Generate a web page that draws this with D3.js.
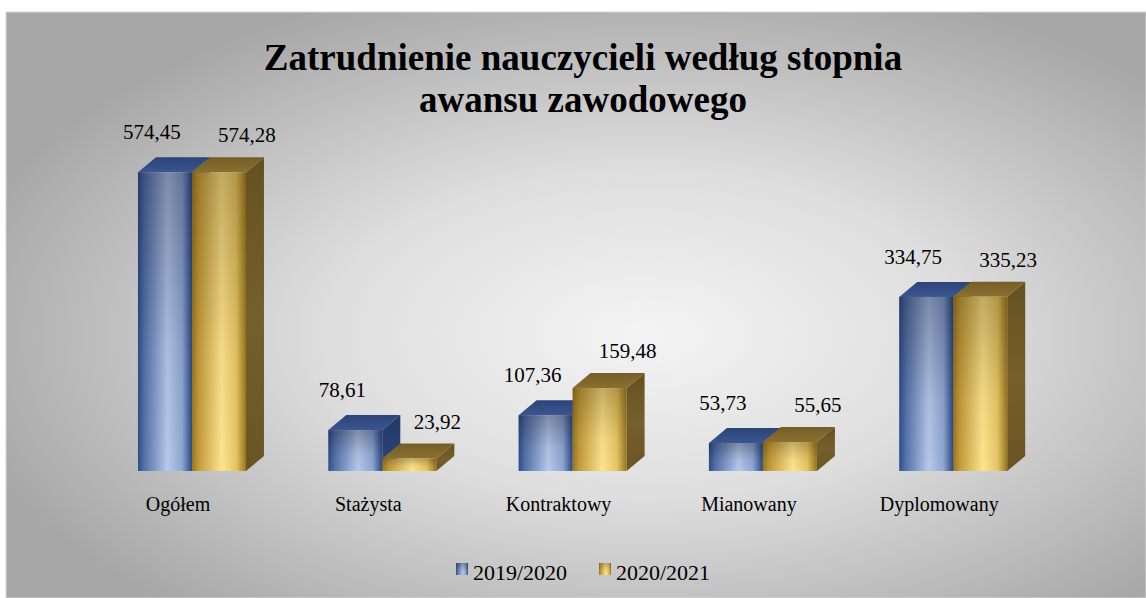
<!DOCTYPE html>
<html>
<head>
<meta charset="utf-8">
<script src="https://cdn.jsdelivr.net/npm/d3@7/dist/d3.min.js"></script>
<style>
  html, body { margin: 0; padding: 0; background: #ffffff; }
  svg { display: block; }
  text { font-family: "Liberation Serif", "Times New Roman", serif; fill: #000; }
</style>
</head>
<body>
<div id="chart"></div>
<script>
// Data
const categories = ['Ogółem', 'Stażysta', 'Kontraktowy', 'Mianowany', 'Dyplomowany'];
const seriesNames = ['2019/2020', '2020/2021'];
const values2019 = [574.45, 78.61, 107.36, 53.73, 334.75];
const values2020 = [574.28, 23.92, 159.48, 55.65, 335.23];
const titleLines = ['Zatrudnienie nauczycieli według stopnia', 'awansu zawodowego'];

const width = 1146;
const height = 598;
const depth = { dx: 18, dy: -15 };

const svg = d3.select('#chart')
  .append('svg')
  .attr('width', width)
  .attr('height', height);

const defs = svg.append('defs');

// Background radial gradient
const bg = defs.append('radialGradient')
  .attr('id', 'bg')
  .attr('cx', '0.56').attr('cy', '0.55').attr('r', '0.62');
bg.append('stop').attr('offset', '0%').attr('stop-color', '#f4f4f4');
bg.append('stop').attr('offset', '45%').attr('stop-color', '#dedede');
bg.append('stop').attr('offset', '100%').attr('stop-color', '#a7a7a7');

function hGrad(id, stops) {
  const g = defs.append('linearGradient').attr('id', id)
    .attr('x1', 0).attr('y1', 0).attr('x2', 1).attr('y2', 0);
  stops.forEach(([o, c]) => g.append('stop').attr('offset', o).attr('stop-color', c));
}
function vGrad(id, stops) {
  const g = defs.append('linearGradient').attr('id', id)
    .attr('x1', 0).attr('y1', 0).attr('x2', 0).attr('y2', 1);
  stops.forEach(([o, c, a]) => g.append('stop').attr('offset', o).attr('stop-color', c)
    .attr('stop-opacity', a === undefined ? 1 : a));
}

hGrad('blueFront', [['0%', '#2f4d88'], ['12%', '#5572aa'], ['55%', '#b7c9ea'], ['82%', '#8ea5d1'], ['100%', '#2b4783']]);
hGrad('goldFront', [['0%', '#98761f'], ['12%', '#c29a3a'], ['55%', '#fde48f'], ['82%', '#e6c564'], ['100%', '#98761f']]);
vGrad('shade', [['0%', '#101830', 0.35], ['60%', '#101830', 0.06], ['100%', '#101830', 0]]);
vGrad('goldShade', [['0%', '#3a2800', 0.3], ['60%', '#3a2800', 0.05], ['100%', '#3a2800', 0]]);
vGrad('blueTop', [['0%', '#2c4478'], ['100%', '#3a5690']]);
vGrad('goldTop', [['0%', '#755e27'], ['100%', '#8a6f30']]);
vGrad('blueSide', [['0%', '#22386a'], ['100%', '#2c4479']]);
vGrad('goldSide', [['0%', '#655020'], ['50%', '#75602c'], ['100%', '#6a5424']]);

const colors = [
  { front: 'url(#blueFront)', shade: 'url(#shade)', top: 'url(#blueTop)', side: 'url(#blueSide)' },
  { front: 'url(#goldFront)', shade: 'url(#goldShade)', top: 'url(#goldTop)', side: 'url(#goldSide)' }
];

// Chart background
svg.append('rect')
  .attr('x', 6).attr('y', 12)
  .attr('width', width - 6).attr('height', height - 12)
  .attr('fill', 'url(#bg)')
  .attr('stroke', '#d8d8d8')
  .attr('stroke-width', 1);

// Title
svg.append('text')
  .attr('x', 583)
  .attr('y', 70)
  .attr('text-anchor', 'middle')
  .style('font-size', '37px')
  .style('font-weight', 'bold')
  .selectAll('tspan')
  .data(titleLines)
  .enter()
  .append('tspan')
  .attr('x', 583)
  .attr('dy', (d, i) => i === 0 ? 0 : 42)
  .text(d => d);

// Scales
const x = d3.scaleBand()
  .domain(categories)
  .range([23.8, 1121.4])
  .paddingInner(0.4325)
  .paddingOuter(0.6);

const xs = d3.scaleBand()
  .domain(seriesNames)
  .range([0, x.bandwidth()]);

const y = d3.scaleLinear()
  .domain([0, 600])
  .range([471, 159]);

const rows = categories.map((c, i) => ({ category: c, values: [values2019[i], values2020[i]] }));

const plot = svg.append('g');

rows.forEach(row => {
  seriesNames.forEach((s, si) => {
    const v = row.values[si];
    const x0 = x(row.category) + xs(s);
    const w = xs.bandwidth();
    const y0 = y(v);
    const yb = y(0);
    const col = colors[si];
    const g = plot.append('g');

    // side face
    g.append('path')
      .attr('d', `M${x0 + w},${y0} L${x0 + w + depth.dx},${y0 + depth.dy} L${x0 + w + depth.dx},${yb + depth.dy} L${x0 + w},${yb} Z`)
      .attr('fill', col.side);
    // top face
    g.append('path')
      .attr('d', `M${x0},${y0} L${x0 + depth.dx},${y0 + depth.dy} L${x0 + w + depth.dx},${y0 + depth.dy} L${x0 + w},${y0} Z`)
      .attr('fill', col.top);
    // front face
    g.append('rect')
      .attr('x', x0).attr('y', y0)
      .attr('width', w).attr('height', yb - y0)
      .attr('fill', col.front);
    g.append('rect')
      .attr('x', x0).attr('y', y0)
      .attr('width', w).attr('height', yb - y0)
      .attr('fill', col.shade);
  });
});

// Value labels
const fmt = v => d3.format('.2f')(v).replace('.', ',');
rows.forEach(row => {
  seriesNames.forEach((s, si) => {
    const v = row.values[si];
    const x0 = x(row.category) + xs(s);
    svg.append('text')
      .attr('x', si === 0 ? x0 + 14 : x0 + 55)
      .attr('y', y(v) + (si === 0 ? -33 : -30))
      .attr('text-anchor', 'middle')
      .style('font-size', '21px')
      .text(fmt(v));
  });
});

// Category labels
svg.append('g')
  .selectAll('text')
  .data(categories)
  .enter()
  .append('text')
  .attr('x', d => x(d) + x.bandwidth() / 2 - 14)
  .attr('y', 511)
  .attr('text-anchor', 'middle')
  .style('font-size', '20px')
  .text(d => d);

// Legend
const legendItems = [
  { name: seriesNames[0], fill: 'url(#blueFront)', x: 456 },
  { name: seriesNames[1], fill: 'url(#goldFront)', x: 599 }
];
const legend = svg.append('g');
legendItems.forEach((d, i) => {
  legend.append('rect')
    .attr('x', d.x).attr('y', 563)
    .attr('width', 12).attr('height', 12)
    .attr('fill', d.fill);
  legend.append('rect')
    .attr('x', d.x).attr('y', 563)
    .attr('width', 12).attr('height', 12)
    .attr('fill', colors[i].shade);
  legend.append('text')
    .attr('x', d.x + 17)
    .attr('y', 580)
    .style('font-size', '22px')
    .text(d.name);
});
</script>
</body>
</html>
